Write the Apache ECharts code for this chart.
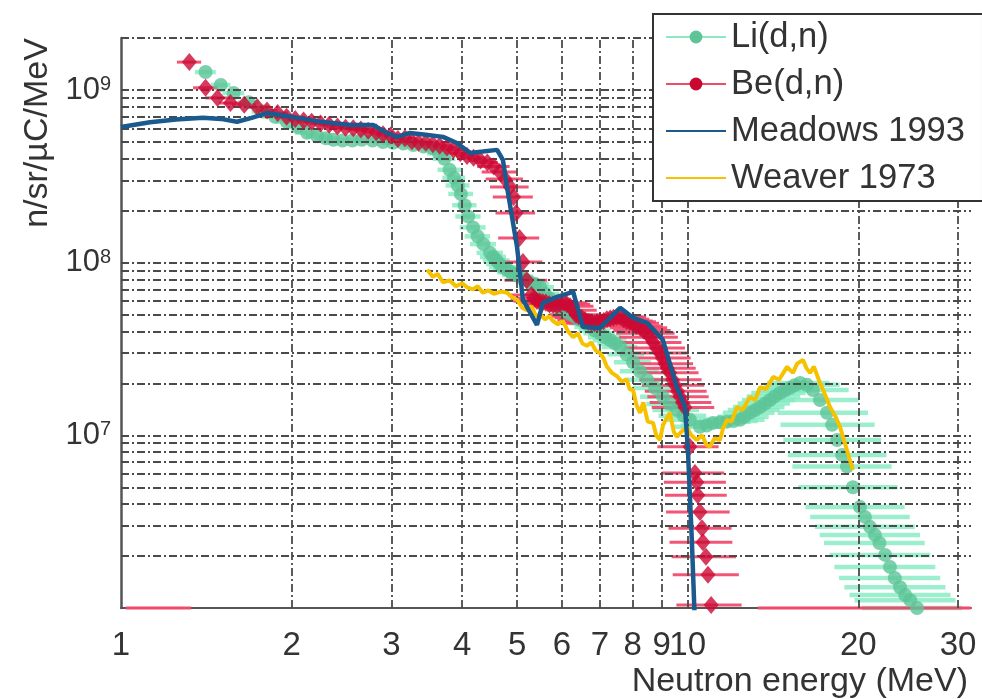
<!DOCTYPE html>
<html>
<head>
<meta charset="utf-8">
<script src="https://cdn.jsdelivr.net/npm/echarts/dist/echarts.min.js"></script>
<style>
  html, body { margin: 0; padding: 0; background: #fff; }
  #chart { width: 982px; height: 699px; }
</style>
</head>
<body>
<div id="chart"></div>
<script>
// Neutron yield spectra: Li(d,n) and Be(d,n) measurements with energy-bin widths,
// compared with the Meadows 1993 and Weaver 1973 reference spectra.

// Li(d,n): energy (MeV), yield (n/sr/uC/MeV), half bin width (MeV)
const liEnergy = [
  1.41, 1.50, 1.58, 1.68, 1.78, 1.87, 1.96, 2.05, 2.13, 2.22,
  2.30, 2.37, 2.46, 2.56, 2.66, 2.78, 2.90, 3.02, 3.15, 3.28,
  3.42, 3.55, 3.64, 3.72, 3.80, 3.87, 3.93, 3.98, 4.04, 4.10,
  4.18, 4.26, 4.36, 4.48, 4.54, 4.60, 4.66, 4.72, 4.80, 4.88,
  4.97, 5.06, 5.16, 5.27, 5.38, 5.49, 5.60, 5.71, 5.83, 5.95,
  6.07, 6.20, 6.33, 6.46, 6.60, 6.73, 6.86, 7.00, 7.15, 7.30,
  7.45, 7.60, 7.80, 8.01, 8.24, 8.48, 8.76, 9.04, 9.30, 9.57,
  9.83, 10.09, 10.51, 10.80, 11.08, 11.40, 11.73, 12.05, 12.37, 12.60,
  12.88, 13.15, 13.42, 13.70, 13.97, 14.25, 14.55, 14.85, 15.14, 15.45,
  15.79, 16.24, 16.63, 17.12, 17.61, 17.98, 18.35, 18.73, 19.10, 19.57,
  20.14, 20.55, 20.97, 21.40, 21.80, 22.30, 22.75, 23.20, 23.70, 24.20,
  24.70, 25.40];
const liFlux = [
  1.27e9, 1.07e9, 9.6e8, 8.5e8, 7.5e8, 7.0e8, 6.55e8, 6.1e8, 5.65e8, 5.4e8,
  5.25e8, 5.15e8, 5.1e8, 5.1e8, 5.15e8, 5.1e8, 5.0e8, 4.95e8, 4.9e8, 4.8e8,
  4.7e8, 4.6e8, 4.3e8, 4.0e8, 3.45e8, 3.1e8, 2.8e8, 2.5e8, 2.15e8, 1.85e8,
  1.6e8, 1.42e8, 1.28e8, 1.14e8, 1.08e8, 1.03e8, 9.8e7, 9.4e7, 9.1e7, 8.8e7,
  8.5e7, 8.3e7, 8.0e7, 7.7e7, 7.5e7, 7.2e7, 6.6e7, 6.2e7, 5.8e7, 5.5e7,
  5.25e7, 5.05e7, 4.85e7, 4.65e7, 4.45e7, 4.25e7, 4.05e7, 3.9e7, 3.7e7, 3.55e7,
  3.4e7, 3.25e7, 2.95e7, 2.65e7, 2.35e7, 2.1e7, 1.88e7, 1.67e7, 1.52e7, 1.4e7,
  1.3e7, 1.23e7, 1.12e7, 1.14e7, 1.18e7, 1.19e7, 1.2e7, 1.21e7, 1.23e7, 1.28e7,
  1.35e7, 1.4e7, 1.46e7, 1.53e7, 1.6e7, 1.68e7, 1.76e7, 1.82e7, 1.88e7, 1.95e7,
  2.01e7, 1.96e7, 1.83e7, 1.6e7, 1.35e7, 1.15e7, 9.4e6, 7.7e6, 6.6e6, 5.0e6,
  3.85e6, 3.37e6, 2.95e6, 2.65e6, 2.38e6, 2.03e6, 1.73e6, 1.49e6, 1.32e6, 1.19e6,
  1.11e6, 1.0e6];
const liHalfWidth = [
  0.06, 0.06, 0.07, 0.07, 0.08, 0.08, 0.09, 0.09, 0.10, 0.10,
  0.10, 0.11, 0.11, 0.12, 0.12, 0.13, 0.13, 0.14, 0.14, 0.15,
  0.16, 0.16, 0.17, 0.17, 0.18, 0.18, 0.19, 0.20, 0.20, 0.21,
  0.22, 0.22, 0.23, 0.24, 0.24, 0.25, 0.25, 0.26, 0.26, 0.27,
  0.27, 0.28, 0.29, 0.30, 0.31, 0.32, 0.33, 0.34, 0.35, 0.36,
  0.37, 0.38, 0.39, 0.40, 0.41, 0.42, 0.44, 0.45, 0.48, 0.50,
  0.52, 0.55, 0.58, 0.60, 0.65, 0.70, 0.75, 0.80, 0.85, 0.90,
  0.95, 1.0, 1.05, 1.08, 1.1, 1.15, 1.2, 1.25, 1.3, 1.3,
  1.35, 1.38, 1.4, 1.45, 1.5, 1.55, 1.6, 1.6, 1.6, 1.8,
  2.0, 2.3, 2.6, 2.9, 3.2, 3.4, 3.6, 3.7, 3.8, 3.9,
  4.0, 4.1, 4.2, 4.3, 4.4, 4.5, 4.6, 4.7, 4.8, 4.9,
  5.0, 5.1];

// Be(d,n): energy (MeV), yield (n/sr/uC/MeV), half bin width (MeV)
const beEnergy = [
  1.32, 1.41, 1.48, 1.56, 1.65, 1.74, 1.81, 1.89, 1.96, 2.03,
  2.10, 2.17, 2.25, 2.33, 2.41, 2.49, 2.57, 2.65, 2.73, 2.82,
  2.90, 2.99, 3.08, 3.17, 3.26, 3.35, 3.45, 3.55, 3.65, 3.76,
  3.86, 3.97, 4.08, 4.19, 4.31, 4.43, 4.55, 4.66, 4.76, 4.86,
  4.93, 4.98, 5.05, 5.12, 5.20, 5.30, 5.36, 5.42, 5.48, 5.55,
  5.62, 5.70, 5.79, 5.88, 5.96, 6.05, 6.12, 6.20, 6.28, 6.35,
  6.42, 6.50, 6.59, 6.68, 6.76, 6.85, 6.93, 7.02, 7.11, 7.20,
  7.30, 7.40, 7.50, 7.60, 7.70, 7.80, 7.90, 8.00, 8.12, 8.25,
  8.36, 8.48, 8.59, 8.70, 8.81, 8.93, 9.02, 9.12, 9.21, 9.30,
  9.40, 9.50, 9.60, 9.69, 9.79, 9.89, 10.09, 10.30, 10.38, 10.42,
  10.51, 10.60, 10.64, 10.77, 10.86, 11.00];
const beFlux = [
  1.45e9, 1.03e9, 9.0e8, 8.4e8, 8.2e8, 7.95e8, 7.6e8, 7.35e8, 7.0e8, 6.8e8,
  6.65e8, 6.55e8, 6.4e8, 6.3e8, 6.15e8, 6.05e8, 6.0e8, 5.9e8, 5.8e8, 5.7e8,
  5.55e8, 5.45e8, 5.2e8, 5.25e8, 5.05e8, 4.95e8, 4.95e8, 4.85e8, 4.75e8, 4.65e8,
  4.5e8, 4.3e8, 4.15e8, 4.05e8, 3.9e8, 3.8e8, 3.6e8, 3.35e8, 3.05e8, 2.74e8,
  2.4e8, 1.94e8, 1.39e8, 1.01e8, 7.9e7, 6.5e7, 6.2e7, 6.0e7, 5.95e7, 5.9e7,
  5.85e7, 5.75e7, 5.7e7, 5.65e7, 5.75e7, 5.85e7, 5.75e7, 5.6e7, 5.3e7, 5.0e7,
  4.9e7, 4.8e7, 4.65e7, 4.55e7, 4.5e7, 4.45e7, 4.5e7, 4.55e7, 4.6e7, 4.7e7,
  4.75e7, 4.8e7, 4.85e7, 4.85e7, 4.7e7, 4.6e7, 4.55e7, 4.45e7, 4.3e7, 4.2e7,
  4.05e7, 3.9e7, 3.7e7, 3.45e7, 3.2e7, 3.0e7, 2.8e7, 2.6e7, 2.45e7, 2.3e7,
  2.1e7, 1.95e7, 1.8e7, 1.67e7, 1.55e7, 1.45e7, 8.6e6, 6.05e6, 5.35e6, 4.5e6,
  3.6e6, 2.9e6, 2.4e6, 1.98e6, 1.56e6, 1.04e6];
const beHalfWidth = [
  0.065, 0.07, 0.07, 0.07, 0.08, 0.08, 0.08, 0.08, 0.09, 0.09,
  0.09, 0.10, 0.10, 0.10, 0.11, 0.11, 0.11, 0.12, 0.12, 0.12,
  0.13, 0.13, 0.13, 0.14, 0.14, 0.15, 0.15, 0.15, 0.16, 0.16,
  0.17, 0.17, 0.18, 0.18, 0.19, 0.19, 0.30, 0.33, 0.36, 0.38,
  0.40, 0.40, 0.42, 0.42, 0.45, 0.48, 0.49, 0.50, 0.51, 0.52,
  0.53, 0.55, 0.56, 0.58, 0.59, 0.60, 0.61, 0.62, 0.63, 0.65,
  0.66, 0.68, 0.70, 0.72, 0.73, 0.75, 0.76, 0.78, 0.79, 0.80,
  0.81, 0.82, 0.84, 0.85, 0.86, 0.88, 0.89, 0.90, 0.92, 0.95,
  0.97, 1.0, 1.02, 1.05, 1.08, 1.1, 1.1, 1.1, 1.12, 1.15,
  1.18, 1.2, 1.2, 1.2, 1.22, 1.25, 1.25, 1.3, 1.3, 1.3,
  1.35, 1.35, 1.35, 1.4, 1.45, 1.45];
// Be(d,n) bins with no counts, shown on the lower edge of the plot: [low, high] (MeV)
const beEmptyBins = [[1.02, 1.33], [13.3, 31.6]];

// Meadows 1993 spectrum
const meadowsEnergy = [1.0, 1.125, 1.25, 1.395, 1.50, 1.602, 1.70, 1.81, 1.95, 2.10,
  2.245, 2.40, 2.535, 2.785, 2.946, 3.07, 3.235, 3.45, 3.70, 3.915,
  4.13, 4.35, 4.61, 4.72, 4.80, 5.00, 5.12, 5.42, 5.555, 5.88,
  6.28, 6.53, 7.0, 7.6, 8.01, 8.48, 9.04, 9.57, 9.89, 10.01,
  10.17, 10.30];
const meadowsFlux = [6.1e8, 6.5e8, 6.75e8, 6.9e8, 6.8e8, 6.55e8, 6.9e8, 7.35e8, 7.1e8, 6.8e8,
  6.55e8, 6.4e8, 6.27e8, 6.27e8, 5.64e8, 5.35e8, 5.64e8, 5.5e8, 5.35e8, 4.93e8,
  4.32e8, 4.4e8, 4.5e8, 3.94e8, 2.74e8, 1.23e8, 6.1e7, 4.36e7, 5.85e7, 6.33e7,
  6.77e7, 4.25e7, 4.19e7, 5.47e7, 4.79e7, 4.48e7, 3.57e7, 1.9e7, 1.46e7, 8.2e6,
  2.48e6, 8.0e5];

// Weaver 1973 spectrum
const weaverEnergy = [3.47, 3.55, 3.62, 3.70, 3.80, 3.90, 4.00, 4.08, 4.18, 4.26,
  4.35, 4.45, 4.55, 4.68, 4.80, 4.90, 5.00, 5.10, 5.20, 5.30,
  5.40, 5.49, 5.60, 5.70, 5.78, 5.90, 6.02, 6.15, 6.28, 6.40,
  6.52, 6.64, 6.76, 6.88, 7.00, 7.10, 7.20, 7.35, 7.50, 7.65,
  7.80, 7.90, 8.01, 8.12, 8.24, 8.35, 8.50, 8.69, 8.80, 8.93,
  9.05, 9.18, 9.30, 9.45, 9.57, 9.75, 9.97, 10.15, 10.38, 10.60,
  10.80, 10.95, 11.15, 11.40, 11.55, 11.73, 11.95, 12.22, 12.50, 12.88,
  13.15, 13.42, 13.75, 14.15, 14.50, 14.97, 15.34, 15.60, 15.98, 16.20,
  16.44, 16.70, 17.12, 17.50, 17.83, 18.20, 18.57, 19.10, 19.57];
const weaverFlux = [9.1e7, 8.3e7, 8.6e7, 7.7e7, 7.9e7, 7.3e7, 7.6e7, 7.2e7, 7.0e7, 7.3e7,
  6.7e7, 6.9e7, 6.6e7, 6.8e7, 6.7e7, 6.3e7, 6.1e7, 5.5e7, 5.3e7, 5.6e7,
  4.9e7, 5.0e7, 4.7e7, 4.9e7, 4.6e7, 4.4e7, 4.6e7, 4.0e7, 3.7e7, 3.9e7,
  3.4e7, 3.3e7, 3.45e7, 3.1e7, 3.0e7, 2.8e7, 2.5e7, 2.3e7, 2.2e7, 2.05e7,
  2.1e7, 1.85e7, 1.83e7, 1.5e7, 1.35e7, 1.55e7, 1.2e7, 1.18e7, 1.0e7, 9.4e6,
  1.15e7, 1.25e7, 1.35e7, 1.05e7, 9.8e6, 1.05e7, 1.12e7, 1.0e7, 9.4e6, 1.0e7,
  8.8e6, 8.6e6, 9.6e6, 9.4e6, 1.1e7, 1.23e7, 1.2e7, 1.46e7, 1.4e7, 1.67e7,
  1.6e7, 1.9e7, 1.85e7, 2.18e7, 2.1e7, 2.49e7, 2.3e7, 2.6e7, 2.73e7, 2.45e7,
  2.3e7, 2.5e7, 2.01e7, 1.7e7, 1.46e7, 1.3e7, 1.12e7, 8.2e6, 6.3e6];

// Axis ticks and grid
const xTickValues = [1, 2, 3, 4, 5, 6, 7, 8, 9, 10, 20, 30];
const xGridValues = [2, 3, 4, 5, 6, 7, 8, 9, 10, 20, 30];
const yTickValues = [1e7, 1e8, 1e9];
const yTickExponents = ['7', '8', '9'];
const yGridValues = [];
[1e6, 1e7, 1e8, 1e9].forEach(function (decade) {
  for (let m = (decade === 1e6 ? 2 : 1); m <= 9; m++) yGridValues.push(m * decade);
});
yGridValues.push(2e9);

const X_MIN = 1, X_MAX = 31.62, Y_MIN = 1e6, Y_MAX = 2e9;
const FONT = '"Liberation Sans", Arial, Helvetica, sans-serif';
const TEXT = '#333333';

function errorBars(name, energy, flux, half, color, width, z) {
  return {
    name: name,
    type: 'custom',
    z: z,
    silent: true,
    animation: false,
    data: energy.map(function (e, i) { return [e, flux[i], e - half[i], e + half[i]]; }),
    encode: { x: 0, y: 1 },
    renderItem: function (params, api) {
      const y = api.value(1);
      const a = api.coord([api.value(2), y]);
      const b = api.coord([api.value(3), y]);
      return {
        type: 'line',
        shape: { x1: a[0], y1: a[1], x2: b[0], y2: b[1] },
        style: { stroke: color, lineWidth: width }
      };
    }
  };
}

const chart = echarts.init(document.getElementById('chart'), null, { renderer: 'canvas' });

const option = {
  animation: false,
  backgroundColor: '#ffffff',
  grid: { left: 121, right: 11, top: 38, bottom: 91, containLabel: false },
  xAxis: {
    type: 'log', logBase: 10, min: X_MIN, max: X_MAX,
    name: 'Neutron energy (MeV)',
    nameLocation: 'end',
    nameGap: -3,
    nameTextStyle: { fontFamily: FONT, fontSize: 34, color: TEXT, align: 'right', verticalAlign: 'top', padding: [57, 0, 0, 0] },
    axisLine: { show: true, lineStyle: { color: '#555', width: 2 } },
    axisTick: { show: false },
    axisLabel: { show: false },
    splitLine: { show: false }
  },
  yAxis: {
    type: 'log', logBase: 10, min: Y_MIN, max: Y_MAX,
    name: 'n/sr/\u00b5C/MeV',
    nameLocation: 'middle',
    nameRotate: 90,
    nameGap: 66,
    nameTextStyle: { fontFamily: FONT, fontSize: 34, color: TEXT, padding: [0, 0, 0, 380] },
    axisLine: { show: true, onZero: false, lineStyle: { color: '#555', width: 2.5 } },
    axisTick: { show: false },
    splitLine: { show: false },
    axisLabel: {
      margin: 10,
      formatter: function (v) {
        const k = yTickValues.findIndex(function (t) { return Math.abs(t - v) / t < 1e-6; });
        return k < 0 ? '' : '{b|10}{s|' + yTickExponents[k] + '}';
      },
      rich: {
        b: { fontFamily: FONT, fontSize: 31, color: TEXT },
        s: { fontFamily: FONT, fontSize: 20, color: TEXT, verticalAlign: 'top' }
      }
    }
  },
  legend: {
    orient: 'vertical',
    left: 653, top: 14,
    padding: [5, 18, 5, 12],
    itemGap: 11,
    itemWidth: 60,
    itemHeight: 16,
    itemTextGap: 12,
    backgroundColor: '#ffffff',
    borderColor: '#333333',
    borderWidth: 2,
    borderRadius: 0,
    z: 20,
    selectedMode: false,
    textStyle: { fontFamily: FONT, fontSize: 34.5, color: TEXT, lineHeight: 36 },
    data: [
      { name: 'Li(d,n)' },
      { name: 'Be(d,n)' },
      { name: 'Meadows 1993', itemStyle: { color: 'rgba(0,0,0,0)', borderWidth: 0 } },
      { name: 'Weaver 1973', itemStyle: { color: 'rgba(0,0,0,0)', borderWidth: 0 } }
    ]
  },
  series: [
    // legend keys for the measured data (line with a round marker)
    { name: 'Li(d,n)', type: 'line', data: [], symbol: 'circle', itemStyle: { color: '#5cc497' }, lineStyle: { color: '#8de9c2', width: 2.5 } },
    { name: 'Be(d,n)', type: 'line', data: [], symbol: 'circle', itemStyle: { color: '#c8082f' }, lineStyle: { color: '#ee4a6c', width: 2.5 } },
    {
      name: 'Meadows 1993', type: 'line', z: 7, symbol: 'none', silent: true,
      data: meadowsEnergy.map(function (e, i) { return [e, meadowsFlux[i]]; }),
      itemStyle: { color: '#1b5a8f' },
      lineStyle: { color: '#1b5a8f', width: 4.5 }
    },
    {
      name: 'Weaver 1973', type: 'line', z: 6, symbol: 'none', silent: true,
      data: weaverEnergy.map(function (e, i) { return [e, weaverFlux[i]]; }),
      itemStyle: { color: '#f6c200' },
      lineStyle: { color: '#f6c200', width: 4 }
    },
    errorBars('Li(d,n)', liEnergy, liFlux, liHalfWidth, 'rgba(130,235,192,0.8)', 4.5, 1),
    errorBars('Be(d,n)', beEnergy, beFlux, beHalfWidth, 'rgba(240,68,104,0.9)', 3, 2),
    {
      name: 'Be(d,n)', type: 'custom', z: 2, silent: true, animation: false,
      data: beEmptyBins.map(function (b) { return [b[0], Y_MIN, b[1]]; }),
      encode: { x: 0, y: 1 },
      renderItem: function (params, api) {
        const a = api.coord([api.value(0), api.value(1)]);
        const b = api.coord([api.value(2), api.value(1)]);
        return { type: 'line', shape: { x1: a[0], y1: a[1], x2: b[0], y2: b[1] }, style: { stroke: '#ee4a6c', lineWidth: 3 } };
      }
    },
    // dash-dot grid
    {
      type: 'line', data: [], z: 3, silent: true,
      markLine: {
        silent: true, symbol: 'none', animation: false,
        label: { show: false },
        emphasis: { disabled: true },
        lineStyle: { color: '#4a4a4a', width: 1.8, type: [8, 3, 2, 3] },
        data: xGridValues.map(function (v) { return { xAxis: v }; })
          .concat(yGridValues.map(function (v) { return { yAxis: v }; }))
      }
    },
    // energy tick labels
    {
      type: 'line', data: [], z: 3, silent: true,
      markLine: {
        silent: true, symbol: 'none', animation: false,
        emphasis: { disabled: true },
        lineStyle: { color: 'rgba(0,0,0,0)', width: 1, type: 'solid' },
        label: { show: true, position: 'start', distance: 21, formatter: '{b}', fontFamily: FONT, fontSize: 33, color: TEXT },
        data: xTickValues.map(function (v) { return { xAxis: v, name: String(v) }; })
      }
    },
    {
      name: 'Li(d,n)', type: 'scatter', z: 4, silent: true,
      symbol: 'circle', symbolSize: 14,
      itemStyle: { color: '#5cc497' },
      data: liEnergy.map(function (e, i) { return [e, liFlux[i]]; })
    },
    {
      name: 'Be(d,n)', type: 'scatter', z: 5, silent: true,
      symbol: 'diamond', symbolSize: [15, 18],
      itemStyle: { color: '#cc0a35' },
      data: beEnergy.map(function (e, i) { return [e, beFlux[i]]; })
    }
  ]
};

chart.setOption(option);
</script>
</body>
</html>
